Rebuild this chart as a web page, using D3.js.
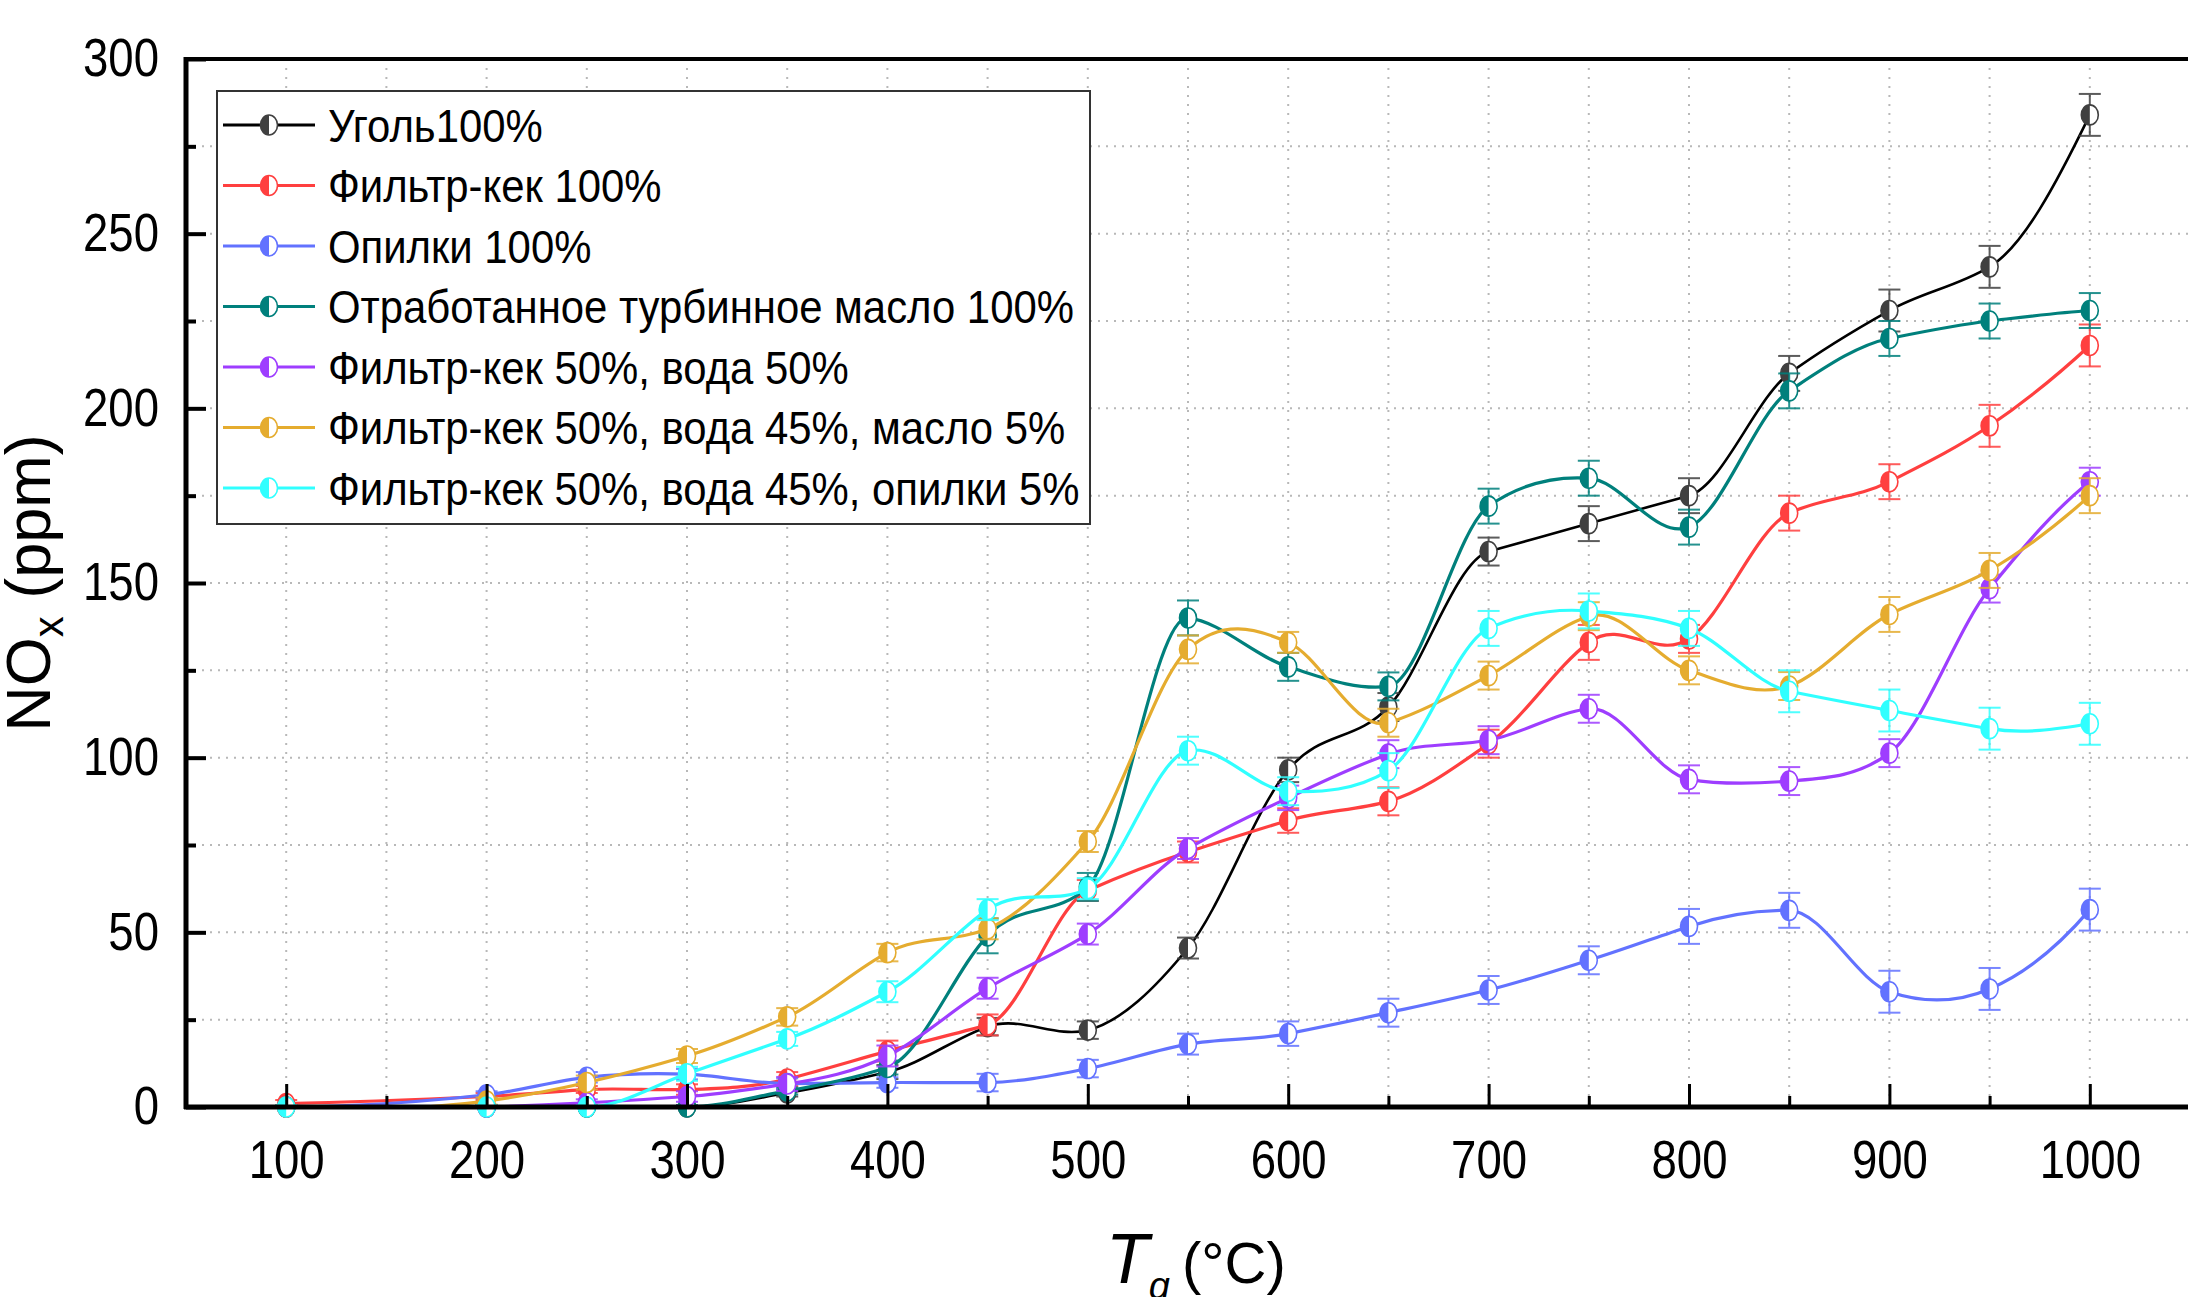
<!DOCTYPE html>
<html>
<head>
<meta charset="utf-8">
<script src="https://cdn.jsdelivr.net/npm/d3@7"></script>
<style>
  body { margin: 0; background: #fff; }
  svg { display: block; }
  text { font-family: "Liberation Sans", Arial, sans-serif; }
</style>
</head>
<body>
<div id="chart"></div>
<script>
// temperatures (°C)
var temps = [100, 200, 250, 300, 350, 400, 450, 500, 550, 600, 650, 700, 750, 800, 850, 900, 950, 1000];

// NOx, ppm
var coal = [0, 0, 0, 0, 4, 10, 23, 22, 45.5, 96.5, 114.5, 159, 167, 175, 210, 228, 240.5, 284];
var coalErr = [0.5, 0.5, 0.5, 0.5, 1, 2, 2.5, 2.5, 3, 3.5, 4, 4, 5, 5, 5, 6, 6, 6];

var filterCake = [1, 3, 5, 5, 8, 16, 23.5, 62, 73, 82, 87.5, 104, 133, 134, 170, 179, 195, 218];
var filterCakeErr = [1, 1, 1, 1.5, 2, 3, 3, 3, 3, 3.5, 4, 4, 5, 4, 5, 5, 6, 6];

var sawdust = [0, 3.5, 8.5, 9.4, 6.7, 7, 7, 11, 18, 21, 27, 33.5, 42, 51.7, 56.3, 33, 33.8, 56.5];
var sawdustErr = [0.5, 1, 1.5, 1.5, 1.5, 1.5, 2.5, 2.5, 3, 3.5, 4, 4, 4, 5, 5, 6, 6, 6];

var turbineOil = [0, 0, 0, 0, 4.6, 11.3, 49, 63, 140, 126, 120.4, 172, 180, 166, 205, 220, 225, 228];
var turbineOilErr = [0.5, 0.5, 0.5, 0.5, 1, 2, 5, 4, 5, 4, 4, 5, 5, 5, 5, 5, 5, 5];

var cakeWater = [0, 0, 1.2, 3, 6.6, 14.6, 34, 49.5, 74, 88.5, 101, 105, 114, 93.8, 93.3, 101.3, 148.4, 179];
var cakeWaterErr = [0.5, 0.5, 1, 1.5, 2, 3, 3, 3, 3, 3.5, 4, 4, 4, 4, 4, 4, 4, 4];

var cakeWaterOil = [0, 1.7, 7, 14.6, 25.8, 44.2, 51, 76, 131, 133, 110, 123.5, 140.5, 125, 120.5, 141, 153.6, 175];
var cakeWaterOilErr = [0.5, 1, 2, 2, 2.5, 2.5, 3, 3, 4, 3, 4, 4, 4, 4, 4, 5, 5, 5];

var cakeWaterSaw = [0, 0, 0, 9.5, 19.5, 33, 56.5, 62.5, 102, 90.4, 96.3, 137, 142, 137, 119, 113.5, 108.3, 109.7];
var cakeWaterSawErr = [0.5, 0.5, 0.5, 2, 2, 3, 3, 3, 4, 4, 5, 5, 5, 5, 6, 6, 6, 6];

var seriesNames = [
    "Уголь100%",
    "Фильтр-кек 100%",
    "Опилки 100%",
    "Отработанное турбинное масло 100%",
    "Фильтр-кек 50%, вода 50%",
    "Фильтр-кек 50%, вода 45%, масло 5%",
    "Фильтр-кек 50%, вода 45%, опилки 5%"
];
var seriesValues = [coal, filterCake, sawdust, turbineOil, cakeWater, cakeWaterOil, cakeWaterSaw];
var seriesErrors = [coalErr, filterCakeErr, sawdustErr, turbineOilErr, cakeWaterErr, cakeWaterOilErr, cakeWaterSawErr];
var seriesColors = ["#000000", "#ff3f3f", "#6272ff", "#00807c", "#9e3dff", "#e5ac2f", "#30ffff"];
var markerColors = ["#404040", "#ff3f3f", "#6272ff", "#00807c", "#9e3dff", "#e5ac2f", "#30ffff"];

var xMajor = [100, 200, 300, 400, 500, 600, 700, 800, 900, 1000];
var xMinor = [150, 250, 350, 450, 550, 650, 750, 850, 950];
var yMajor = [0, 50, 100, 150, 200, 250, 300];
var yMinor = [25, 75, 125, 175, 225, 275];

var svgWidth = 2188;
var svgHeight = 1297;
var plotLeft = 186, plotRight = 2190, plotTop = 59, plotBottom = 1107;
var narrow = 0.86; // condensed look of the original font

var svg = d3.select("#chart").append("svg").attr("width", svgWidth).attr("height", svgHeight);

var x = d3.scaleLinear().domain([50, 1050]).range([plotLeft, plotRight]);
var y = d3.scaleLinear().domain([0, 300]).range([plotBottom, plotTop]);

// Akima spline curve (smooth line without big overshoots, like the original plot)
function curveAkima(context) {
    var xs, ys;
    return {
        areaStart: function() {},
        areaEnd: function() {},
        lineStart: function() { xs = []; ys = []; },
        point: function(px, py) { xs.push(+px); ys.push(+py); },
        lineEnd: function() {
            var n = xs.length;
            if (n < 3) {
                context.moveTo(xs[0], ys[0]);
                for (var k = 1; k < n; k++) context.lineTo(xs[k], ys[k]);
                return;
            }
            var m = [];
            for (var i = 0; i < n - 1; i++) m.push((ys[i + 1] - ys[i]) / (xs[i + 1] - xs[i]));
            var mm1 = 2 * m[0] - m[1], mm2 = 2 * mm1 - m[0];
            var mp1 = 2 * m[n - 2] - m[n - 3], mp2 = 2 * mp1 - m[n - 2];
            var M = [mm2, mm1].concat(m, [mp1, mp2]);
            var t = [];
            for (var i = 0; i < n; i++) {
                var a = M[i], b = M[i + 1], c = M[i + 2], d = M[i + 3];
                var w1 = Math.abs(d - c), w2 = Math.abs(b - a);
                t.push(w1 + w2 < 1e-9 ? (b + c) / 2 : (w1 * b + w2 * c) / (w1 + w2));
            }
            context.moveTo(xs[0], ys[0]);
            for (var i = 0; i < n - 1; i++) {
                var h = (xs[i + 1] - xs[i]) / 3;
                context.bezierCurveTo(xs[i] + h, ys[i] + t[i] * h,
                    xs[i + 1] - h, ys[i + 1] - t[i + 1] * h,
                    xs[i + 1], ys[i + 1]);
            }
        }
    };
}

// dotted grid
var grid = svg.append("g");
grid.selectAll("line.gx").data(xMajor.concat(xMinor)).enter().append("line")
    .attr("x1", d => x(d)).attr("x2", d => x(d))
    .attr("y1", plotTop).attr("y2", plotBottom)
    .attr("stroke", "#b8b8b8").attr("stroke-width", 2).attr("stroke-dasharray", "2,7");
grid.selectAll("line.gy").data(yMajor.concat(yMinor).filter(d => d > 0 && d < 300)).enter().append("line")
    .attr("x1", plotLeft).attr("x2", plotRight)
    .attr("y1", d => y(d)).attr("y2", d => y(d))
    .attr("stroke", "#b8b8b8").attr("stroke-width", 2).attr("stroke-dasharray", "2,6");

// legend box (covers grid)
var lx = 217, ly = 91, lw = 873, lh = 433;
svg.append("rect").attr("x", lx).attr("y", ly).attr("width", lw).attr("height", lh)
    .attr("fill", "#fff").attr("stroke", "#333").attr("stroke-width", 2);

svg.append("clipPath").attr("id", "plotClip").append("rect")
    .attr("x", plotLeft).attr("y", plotTop).attr("width", plotRight - plotLeft).attr("height", plotBottom - plotTop);

var line = d3.line().x(d => x(d[0])).y(d => y(d[1])).curve(curveAkima);

function halfMarker(g, fillColor) {
    var rx = 8.5, ry = 10;
    g.append("ellipse").attr("rx", rx).attr("ry", ry).attr("fill", "#fff");
    g.append("path")
        .attr("d", `M0,${-ry} A${rx},${ry} 0 0 0 0,${ry} Z`)
        .attr("fill", fillColor);
    g.append("ellipse").attr("rx", rx).attr("ry", ry).attr("fill", "none")
        .attr("stroke", fillColor).attr("stroke-width", 1.6);
}

seriesValues.forEach(function(vals, i) {
    var pts = temps.map((t, j) => [t, vals[j], seriesErrors[i][j]]);
    var g = svg.append("g");

    g.append("path").datum(pts)
        .attr("d", line)
        .attr("clip-path", "url(#plotClip)")
        .attr("fill", "none")
        .attr("stroke", seriesColors[i])
        .attr("stroke-width", i == 0 ? 2.6 : 3.2);

    var eb = g.selectAll("g.err").data(pts).enter().append("g")
        .attr("stroke", markerColors[i]).attr("stroke-width", 2).attr("opacity", 0.85);
    eb.append("line")
        .attr("x1", d => x(d[0])).attr("x2", d => x(d[0]))
        .attr("y1", d => y(d[1] + d[2])).attr("y2", d => y(Math.max(0, d[1] - d[2])));
    eb.append("line")
        .attr("x1", d => x(d[0]) - 11).attr("x2", d => x(d[0]) + 11)
        .attr("y1", d => y(d[1] + d[2])).attr("y2", d => y(d[1] + d[2]));
    eb.append("line")
        .attr("x1", d => x(d[0]) - 11).attr("x2", d => x(d[0]) + 11)
        .attr("y1", d => y(Math.max(0, d[1] - d[2]))).attr("y2", d => y(Math.max(0, d[1] - d[2])));

    g.selectAll("g.mk").data(pts).enter().append("g")
        .attr("transform", d => `translate(${x(d[0])},${y(d[1])})`)
        .each(function() { halfMarker(d3.select(this), markerColors[i]); });
});

// legend entries
seriesNames.forEach(function(name, i) {
    var cy = 125 + i * 60.5;
    svg.append("line").attr("x1", 223).attr("x2", 315).attr("y1", cy).attr("y2", cy)
        .attr("stroke", seriesColors[i]).attr("stroke-width", 3.2);
    halfMarker(svg.append("g").attr("transform", `translate(269,${cy})`), markerColors[i]);
    svg.append("text")
        .attr("transform", `translate(328,${cy}) scale(0.91,1)`)
        .attr("dy", "0.36em")
        .attr("font-size", 46).attr("fill", "#000")
        .text(name);
});

// axes
var xAxis = svg.append("g").attr("transform", `translate(0,${plotBottom})`)
    .call(d3.axisBottom(x).tickValues(xMajor).tickSize(-23).tickPadding(33).tickFormat(d3.format("d")));
var xAxisMinor = svg.append("g").attr("transform", `translate(0,${plotBottom})`)
    .call(d3.axisBottom(x).tickValues(xMinor).tickSize(-11).tickFormat(""));
var yAxis = svg.append("g").attr("transform", `translate(${plotLeft},0)`)
    .call(d3.axisLeft(y).tickValues(yMajor).tickSize(-20).tickPadding(27));
var yAxisMinor = svg.append("g").attr("transform", `translate(${plotLeft},0)`)
    .call(d3.axisLeft(y).tickValues(yMinor).tickSize(-10).tickFormat(""));

[xAxis, xAxisMinor, yAxis, yAxisMinor].forEach(function(a) {
    a.select(".domain").remove();
    a.attr("font-family", null);
});
xAxis.selectAll(".tick line").attr("stroke", "#000").attr("stroke-width", 3);
xAxisMinor.selectAll(".tick line").attr("stroke", "#000").attr("stroke-width", 3);
yAxis.selectAll(".tick line").attr("stroke", "#000").attr("stroke-width", 4);
yAxisMinor.selectAll(".tick line").attr("stroke", "#000").attr("stroke-width", 4);
xAxis.selectAll("text").attr("font-size", 53).attr("fill", "#000")
    .attr("transform", `scale(${narrow},1)`);
yAxis.selectAll("text").attr("font-size", 53).attr("fill", "#000")
    .attr("x", -27 / narrow)
    .attr("transform", `scale(${narrow},1)`);

// frame
svg.append("line").attr("x1", plotLeft).attr("x2", plotLeft).attr("y1", plotTop - 2).attr("y2", plotBottom + 2)
    .attr("stroke", "#000").attr("stroke-width", 5);
svg.append("line").attr("x1", plotLeft - 2).attr("x2", plotRight).attr("y1", plotBottom).attr("y2", plotBottom)
    .attr("stroke", "#000").attr("stroke-width", 5);
svg.append("line").attr("x1", plotLeft - 2).attr("x2", plotRight).attr("y1", plotTop).attr("y2", plotTop)
    .attr("stroke", "#000").attr("stroke-width", 4);
svg.append("line").attr("x1", plotRight).attr("x2", plotRight).attr("y1", plotTop).attr("y2", plotBottom)
    .attr("stroke", "#000").attr("stroke-width", 4);

// axis titles
var yTitle = svg.append("text")
    .attr("transform", "translate(50,583) rotate(-90)")
    .attr("text-anchor", "middle").attr("font-size", 63).attr("fill", "#000");
yTitle.append("tspan").text("NO");
yTitle.append("tspan").attr("font-size", 42).attr("dy", 13).text("x");
yTitle.append("tspan").attr("dy", -13).text(" (ppm)");

var xTitle = svg.append("text")
    .attr("x", 1106).attr("y", 1283).attr("fill", "#000");
xTitle.append("tspan").attr("font-size", 70).attr("font-style", "italic").text("T");
xTitle.append("tspan").attr("font-size", 38).attr("font-style", "italic").attr("dy", 16).text("g");
xTitle.append("tspan").attr("font-size", 58).attr("dy", -16).attr("dx", -4).text(" (°C)");
</script>
</body>
</html>
